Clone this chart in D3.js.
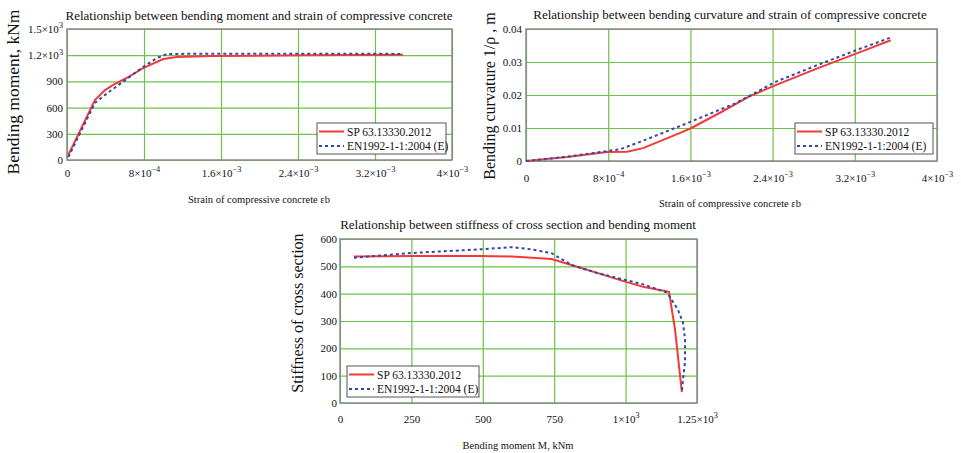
<!DOCTYPE html>
<html>
<head>
<meta charset="utf-8">
<script src="https://cdn.jsdelivr.net/npm/d3@7"></script>
<style>
body { margin: 0; background: #fff; }
text { font-family: "Liberation Serif", "Times New Roman", serif; fill: #111; }
</style>
</head>
<body>
<script>
var w = 961,
    h = 453;

// chart 1: bending moment vs strain
var strainSp1 = [0.000014, 0.00029, 0.000395, 0.00048, 0.00062, 0.00079, 0.001, 0.00114, 0.00149, 0.0025, 0.00349];
var momentSp1 = [57, 687, 801, 859, 939, 1053, 1156, 1180, 1190, 1200, 1205];
var strainEn1 = [0.000014, 0.00029, 0.00042, 0.00062, 0.00079, 0.000935, 0.00104, 0.0016, 0.00349];
var momentEn1 = [34, 653, 767, 927, 1065, 1168, 1214, 1218, 1215];
var xTicks1 = [0, 0.0008, 0.0016, 0.0024, 0.0032, 0.004];
var xLabels1 = ["0", "8×10^−4", "1.6×10^−3", "2.4×10^−3", "3.2×10^−3", "4×10^−3"];
var yTicks1 = [0, 300, 600, 900, 1200, 1500];
var yLabels1 = ["0", "300", "600", "900", "1.2×10^3", "1.5×10^3"];

// chart 2: curvature vs strain
var strainSp2 = [0, 0.0004, 0.00079, 0.000985, 0.00114, 0.0015, 0.00161, 0.00191, 0.00217, 0.00243, 0.00283, 0.00325, 0.00355];
var curvSp2 = [0, 0.0012, 0.0027, 0.0028, 0.0039, 0.0085, 0.0100, 0.0150, 0.0195, 0.0230, 0.0280, 0.0330, 0.0366];
var strainEn2 = [0, 0.0004, 0.00079, 0.00092, 0.00111, 0.0015, 0.00161, 0.00204, 0.00243, 0.00283, 0.00325, 0.00354];
var curvEn2 = [0, 0.0013, 0.0030, 0.0036, 0.0058, 0.0106, 0.0120, 0.0175, 0.0240, 0.0290, 0.0340, 0.0373];
var xTicks2 = xTicks1;
var xLabels2 = xLabels1;
var yTicks2 = [0, 0.01, 0.02, 0.03, 0.04];
var yLabels2 = ["0", "0.01", "0.02", "0.03", "0.04"];

// chart 3: stiffness vs moment
var momentSp3 = [49, 255, 486, 602, 741, 810, 903, 995, 1065, 1152, 1173, 1197];
var stiffSp3 = [536, 538, 538, 536, 527, 505, 475, 445, 424, 407, 269, 40];
var momentEn3 = [49, 255, 486, 602, 671, 741, 810, 903, 995, 1065, 1145, 1183, 1201, 1208, 1208, 1201, 1197];
var stiffEn3 = [531, 549, 562, 570, 562, 548, 505, 475, 451, 433, 404, 342, 294, 233, 149, 87, 40];
var xTicks3 = [0, 250, 500, 750, 1000, 1250];
var xLabels3 = ["0", "250", "500", "750", "1×10^3", "1.25×10^3"];
var yTicks3 = [0, 100, 200, 300, 400, 500, 600];
var yLabels3 = ["0", "100", "200", "300", "400", "500", "600"];

var seriesNames = ["SP 63.13330.2012", "EN1992-1-1:2004 (E)"];
var red = "#f23a3a", blue = "#3545a8", grid = "#6cc24a";
var serif = "'Liberation Serif', 'Times New Roman', serif";

var svg = d3.select("body").append("svg")
    .attr("width", w)
    .attr("height", h);

function supText(sel, s) {
  var parts = s.split("^");
  sel.text(parts[0]);
  if (parts[1]) {
    sel.append("tspan").attr("dy", "-0.55em").attr("font-size", "0.75em").text(parts[1]);
  }
}

function pairs(xs, ys) {
  return xs.map(function(v, i) { return [v, ys[i]]; });
}

function chart(o) {
  var g = svg.append("g");
  var x = d3.scaleLinear().domain(o.xDomain).range([o.left, o.right]);
  var y = d3.scaleLinear().domain(o.yDomain).range([o.bottom, o.top]);

  // gridlines
  var gx = g.append("g").attr("transform", "translate(0," + o.bottom + ")")
    .call(d3.axisBottom(x).tickValues(o.xTicks).tickSize(-(o.bottom - o.top)).tickFormat(""));
  var gy = g.append("g").attr("transform", "translate(" + o.left + ",0)")
    .call(d3.axisLeft(y).tickValues(o.yTicks).tickSize(-(o.right - o.left)).tickFormat(""));
  [gx, gy].forEach(function(a) {
    a.select(".domain").remove();
    a.selectAll(".tick line").attr("stroke", grid).attr("stroke-width", 1.2);
  });

  // frame
  g.append("rect")
    .attr("x", o.left).attr("y", o.top)
    .attr("width", o.right - o.left).attr("height", o.bottom - o.top)
    .attr("fill", "none").attr("stroke", "#8a8a8a").attr("stroke-width", 1.5);

  // tick labels
  var ax = g.append("g").attr("transform", "translate(0," + o.bottom + ")")
    .call(d3.axisBottom(x).tickValues(o.xTicks).tickSize(0).tickPadding(o.xPad)
      .tickFormat(function(d, i) { return o.xLabels[i]; }));
  var ay = g.append("g").attr("transform", "translate(" + o.left + ",0)")
    .call(d3.axisLeft(y).tickValues(o.yTicks).tickSize(0).tickPadding(o.yPad)
      .tickFormat(function(d, i) { return o.yLabels[i]; }));
  [ax, ay].forEach(function(a) {
    a.attr("font-family", serif).attr("font-size", 11);
    a.select(".domain").remove();
    a.selectAll(".tick text").attr("fill", "#111").each(function(d, i) {
      var t = d3.select(this);
      supText(t, t.text());
    });
  });

  // lines
  var line = d3.line().x(function(d) { return x(d[0]); }).y(function(d) { return y(d[1]); });
  g.append("path").datum(pairs(o.sp[0], o.sp[1]))
    .attr("d", line).attr("fill", "none").attr("stroke", red).attr("stroke-width", 2);
  g.append("path").datum(pairs(o.en[0], o.en[1]))
    .attr("d", line).attr("fill", "none").attr("stroke", blue).attr("stroke-width", 2)
    .attr("stroke-dasharray", "3,3");

  // legend
  var lg = g.append("g").attr("transform", "translate(" + o.legend[0] + "," + o.legend[1] + ")");
  lg.append("rect").attr("width", o.legend[2]).attr("height", 31)
    .attr("fill", "#fff").attr("stroke", "#555").attr("stroke-width", 1);
  seriesNames.forEach(function(name, i) {
    var yy = 8.5 + i * 14.5;
    lg.append("line").attr("x1", 2).attr("x2", 27).attr("y1", yy).attr("y2", yy)
      .attr("stroke", i ? blue : red).attr("stroke-width", 2)
      .attr("stroke-dasharray", i ? "3,3" : null);
    lg.append("text").attr("x", 30).attr("y", yy + 4).attr("font-size", 11.5).text(name);
  });

  // titles
  g.append("text").attr("x", o.titleX).attr("y", o.titleY).attr("text-anchor", "middle")
    .attr("font-size", 13).text(o.title);
  g.append("text").attr("x", o.titleX).attr("y", o.xTitleY).attr("text-anchor", "middle")
    .attr("font-size", 10.5).text(o.xTitle);
  g.append("text").attr("transform", "translate(" + o.yTitle[0] + "," + o.yTitle[1] + ") rotate(-90)")
    .attr("text-anchor", "middle").attr("font-size", o.yTitle[2]).text(o.yTitle[3]);
}

chart({
  left: 67, right: 452, top: 29, bottom: 160,
  xDomain: [0, 0.004], yDomain: [0, 1500],
  xTicks: xTicks1, xLabels: xLabels1, yTicks: yTicks1, yLabels: yLabels1,
  xPad: 9, yPad: 4,
  sp: [strainSp1, momentSp1], en: [strainEn1, momentEn1],
  legend: [317, 123, 129],
  title: "Relationship between bending moment and strain of compressive concrete",
  titleX: 259, titleY: 20, xTitleY: 203,
  xTitle: "Strain of compressive concrete εb",
  yTitle: [19, 92, 17.5, "Bending moment, kNm"]
});

chart({
  left: 526, right: 937, top: 29, bottom: 161,
  xDomain: [0, 0.004], yDomain: [0, 0.04],
  xTicks: xTicks2, xLabels: xLabels2, yTicks: yTicks2, yLabels: yLabels2,
  xPad: 13, yPad: 4,
  sp: [strainSp2, curvSp2], en: [strainEn2, curvEn2],
  legend: [795, 123, 138],
  title: "Relationship between bending curvature and strain of compressive concrete",
  titleX: 730, titleY: 19, xTitleY: 207,
  xTitle: "Strain of compressive concrete εb",
  yTitle: [495, 96, 16, "Bending curvature 1/ρ , m"]
});

chart({
  left: 340, right: 697, top: 239, bottom: 403,
  xDomain: [0, 1250], yDomain: [0, 600],
  xTicks: xTicks3, xLabels: xLabels3, yTicks: yTicks3, yLabels: yLabels3,
  xPad: 12, yPad: 3,
  sp: [momentSp3, stiffSp3], en: [momentEn3, stiffEn3],
  legend: [347, 366, 132],
  title: "Relationship between stiffness of cross section and bending moment",
  titleX: 518, titleY: 229, xTitleY: 449,
  xTitle: "Bending moment M, kNm",
  yTitle: [303, 313, 16, "Stiffness of cross section"]
});
</script>
</body>
</html>
